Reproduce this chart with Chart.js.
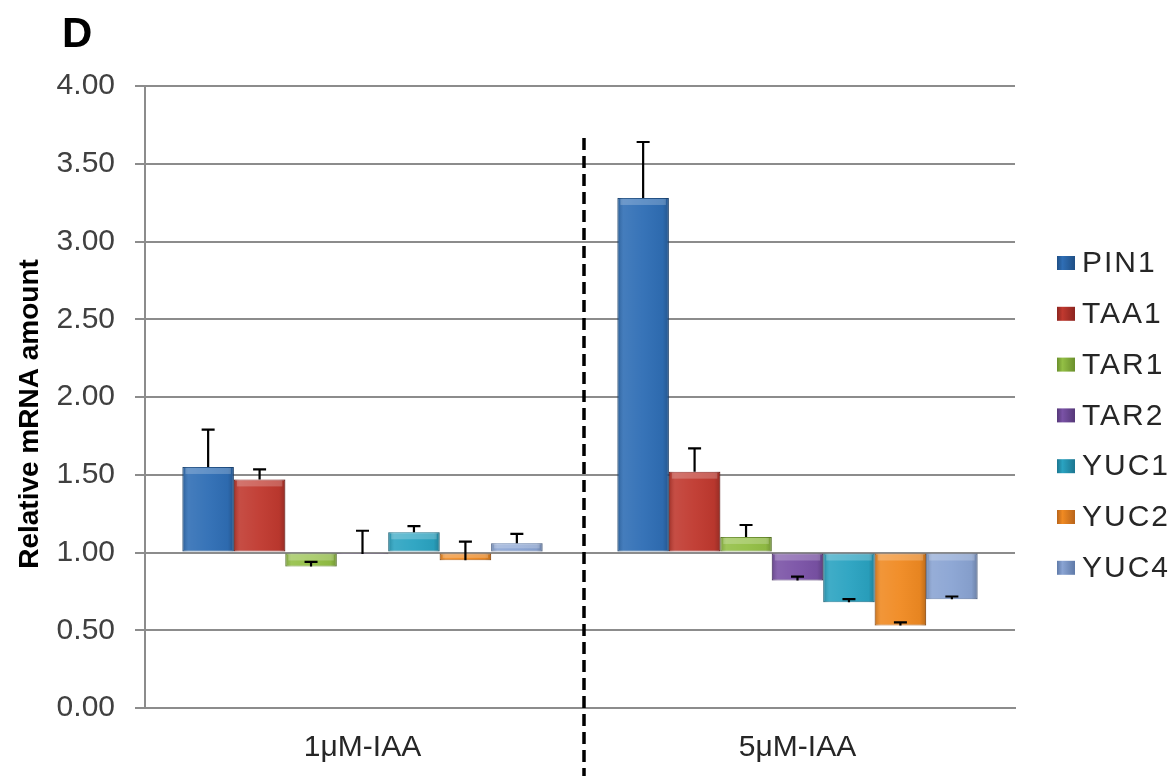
<!DOCTYPE html>
<html><head><meta charset="utf-8">
<script src="https://cdn.jsdelivr.net/npm/chart.js@4.4.0/dist/chart.umd.min.js"></script>
<style>html,body{margin:0;padding:0;background:#fff;} canvas{display:block;}</style>
</head><body>
<canvas id="c" width="1174" height="776"></canvas>
<script>
const categories = ['1μM-IAA', '5μM-IAA'];
const genes = ['PIN1', 'TAA1', 'TAR1', 'TAR2', 'YUC1', 'YUC2', 'YUC4'];
const iaa1 = [1.55, 1.47, 0.91, 0.99, 1.13, 0.95, 1.06];
const iaa5 = [3.28, 1.52, 1.10, 0.82, 0.68, 0.53, 0.70];
const err1 = [0.24, 0.065, 0.03, 0.15, 0.04, 0.12, 0.06];
const err5 = [0.36, 0.15, 0.077, 0.025, 0.02, 0.021, 0.017];
const yTickValues = [0, 0.5, 1, 1.5, 2, 2.5, 3, 3.5, 4];
const baseValue = 1;

const colors = ['#2f6eb5', '#c0392f', '#93bf45', '#7a52a6', '#2aa3c1', '#f08a22', '#8aa4d3'];
const borders = ['#1f4f85', '#8c2520', '#6a8f2c', '#553878', '#1c7690', '#b8641a', '#5f7aa8'];

const FONT = "'Liberation Sans', Arial, sans-serif";

const datasets = genes.map((g, i) => ({
  label: g,
  data: [iaa1[i], iaa5[i]],
  errors: [err1[i], err5[i]],
  base: baseValue,
  backgroundColor: colors[i],
  borderColor: borders[i],
  borderWidth: 1,
  borderSkipped: false,
  barPercentage: 1,
  categoryPercentage: 0.828
}));

const extras = {
  id: 'extras',
  afterDatasetsDraw(chart) {
    const ctx = chart.ctx;
    const ys = chart.scales.y, xs = chart.scales.x;
    ctx.save();
    // bevel shading over each bar element
    chart.data.datasets.forEach((ds, i) => {
      chart.getDatasetMeta(i).data.forEach(el => {
        const l = el.x - el.width / 2, w = el.width;
        const t = Math.min(el.y, el.base), h = Math.abs(el.base - el.y);
        const g = ctx.createLinearGradient(l, 0, l + w, 0);
        g.addColorStop(0, 'rgba(0,0,0,0.18)');
        g.addColorStop(0.12, 'rgba(255,255,255,0.10)');
        g.addColorStop(0.5, 'rgba(255,255,255,0.04)');
        g.addColorStop(0.88, 'rgba(0,0,0,0.04)');
        g.addColorStop(1, 'rgba(0,0,0,0.22)');
        ctx.fillStyle = g;
        ctx.fillRect(l, t, w, h);
        const bh = Math.min(6, h / 2);
        ctx.fillStyle = 'rgba(255,255,255,0.22)';
        ctx.fillRect(l + 3, t + 1, w - 6, bh);
      });
    });
    ctx.strokeStyle = '#000';
    ctx.lineWidth = 2.2;
    chart.data.datasets.forEach((ds, i) => {
      const meta = chart.getDatasetMeta(i);
      meta.data.forEach((el, j) => {
        const v = ds.data[j];
        const y0 = ys.getPixelForValue(v);
        const y1 = ys.getPixelForValue(v + ds.errors[j]);
        ctx.beginPath();
        ctx.moveTo(el.x, y0);
        ctx.lineTo(el.x, y1);
        ctx.moveTo(el.x - 6.5, y1);
        ctx.lineTo(el.x + 6.5, y1);
        ctx.stroke();
      });
    });
    // dashed separator
    const xm = (xs.getPixelForValue(0) + xs.getPixelForValue(1)) / 2 + 4;
    ctx.setLineDash([12, 6]);
    ctx.lineWidth = 3.5;
    ctx.beginPath();
    ctx.moveTo(xm, 138);
    ctx.lineTo(xm, 776);
    ctx.stroke();
    ctx.restore();
  },
  afterDraw(chart) {
    const ctx = chart.ctx;
    ctx.save();
    ctx.fillStyle = '#000';
    ctx.font = 'bold 42px ' + FONT;
    ctx.textBaseline = 'middle';
    ctx.textAlign = 'left';
    ctx.fillText('D', 62, 35);
    ctx.save();
    ctx.translate(30, 414);
    ctx.rotate(-Math.PI / 2);
    ctx.textAlign = 'center';
    ctx.font = 'bold 28px ' + FONT;
    ctx.fillText('Relative mRNA amount', 0, 0);
    ctx.restore();
    ctx.font = '30px ' + FONT;
    ctx.textAlign = 'left';
    ctx.textBaseline = 'middle';
    try { ctx.letterSpacing = '2px'; } catch (e) {}
    genes.forEach((g, i) => {
      const y = 263 + i * 50.8;
      const gr = ctx.createLinearGradient(1057, 0, 1075, 0);
      gr.addColorStop(0, borders[i]);
      gr.addColorStop(0.3, colors[i]);
      gr.addColorStop(1, borders[i]);
      ctx.fillStyle = gr;
      ctx.fillRect(1057, y - 7, 18, 14);
      ctx.fillStyle = '#262626';
      ctx.fillText(g, 1082, y + 1);
    });
    ctx.restore();
  }
};

new Chart(document.getElementById('c'), {
  type: 'bar',
  data: { labels: categories, datasets },
  options: {
    responsive: false,
    devicePixelRatio: 1,
    animation: false,
    layout: { padding: { top: 86, right: 159, left: 0, bottom: 0 } },
    plugins: { legend: { display: false }, tooltip: { enabled: false } },
    scales: {
      x: {
        grid: { display: false, drawTicks: false },
        border: { display: true, color: '#8c8c8c', width: 2 },
        ticks: { color: '#262626', font: { family: FONT, size: 30 }, padding: 22 },
        afterFit: s => { s.height = 68; }
      },
      y: {
        min: 0, max: 4,
        afterBuildTicks: s => { s.ticks = yTickValues.map(v => ({ value: v })); },
        grid: { color: '#8c8c8c', lineWidth: 2, tickLength: 10, drawTicks: true },
        border: { display: true, color: '#8c8c8c', width: 2 },
        ticks: { color: '#404040', font: { family: FONT, size: 30 }, padding: 20,
                 callback: v => Number(v).toFixed(2) },
        afterFit: s => { s.width = 145; }
      }
    }
  },
  plugins: [extras]
});
</script>
</body></html>
